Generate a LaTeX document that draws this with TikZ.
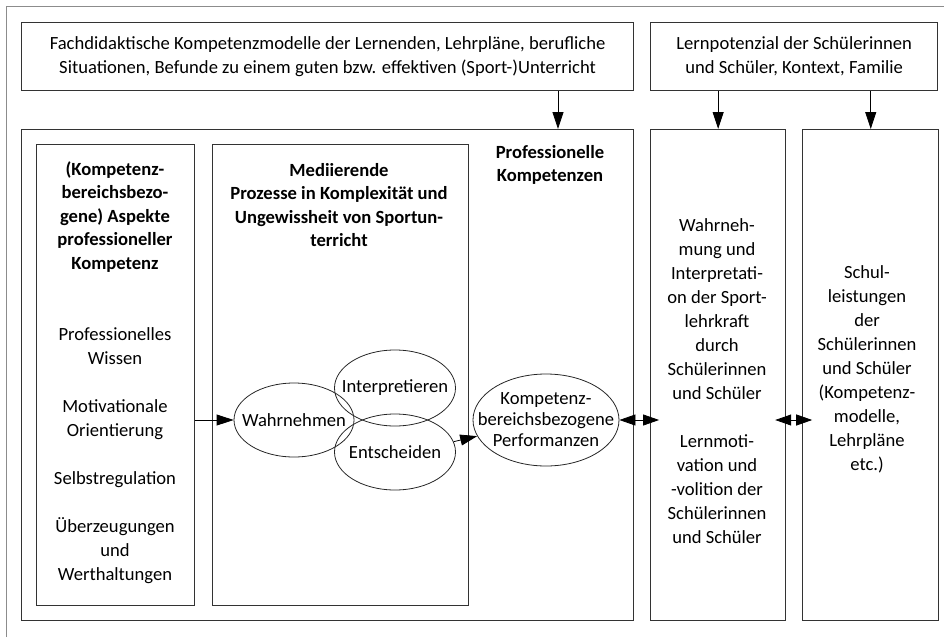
\documentclass[tikz,border=0pt]{standalone}
\usepackage{fontspec}
\setmainfont{Carlito}
\usetikzlibrary{positioning,shapes.geometric,arrows.meta}

\begin{document}
\begin{tikzpicture}[x=1pt, y=-1pt,
        box/.style={draw=black!80, line width=1.1pt, inner sep=0pt},
        txt/.style={align=center, font=\fontsize{18.6}{24}\selectfont},
        head/.style={align=center, font=\fontsize{18.6}{23.5}\selectfont\bfseries},
        oval/.style={ellipse, draw=black!85, line width=0.8pt, inner sep=0pt},
        lbl/.style={align=center, font=\fontsize{18.6}{21}\selectfont},
        arr/.style={draw, line width=0.8pt, -{Triangle[length=17pt,width=11pt]}},
        dbl/.style={draw, line width=0.8pt, {Triangle[length=16pt,width=11pt]}-{Triangle[length=16pt,width=11pt]}},
        frame/.style={draw=black!45, line width=1pt}
    ]
        \useasboundingbox (0,0) rectangle (944,637);
        \draw[frame] (6,637) -- (6,6) -- (944,6);

        % Top boxes
        \node[box, txt, minimum width=612pt, minimum height=68pt, anchor=north west] (ctx) at (21,22)
            {Fachdidaktische Kompetenzmodelle der Lernenden, Lehrpläne, berufliche\\Situationen, Befunde zu einem guten bzw. effektiven (Sport-)Unterricht};
        \node[box, txt, minimum width=287pt, minimum height=68pt, right=16pt of ctx] (pot)
            {Lernpotenzial der Schülerinnen\\und Schüler, Kontext, Familie};

        % Columns
        \node[box, minimum width=612pt, minimum height=491pt, anchor=north west] (prof) at (21,129) {};
        \node[box, minimum width=135pt, minimum height=491pt, right=16pt of prof] (wahrn) {};
        \node[box, minimum width=136pt, minimum height=491pt, right=16pt of wahrn] (schul) {};
        \node[box, minimum width=158pt, minimum height=461pt, anchor=north west] (asp) at (36,144) {};
        \node[box, minimum width=256pt, minimum height=461pt, right=17pt of asp] (med) {};

        % Texts
        \node[head] (profhead) at (550,165) {Professionelle\\Kompetenzen};
        \node[head] (asphead) at (115,217) {(Kompetenz-\\bereichsbezo-\\gene) Aspekte\\professioneller\\Kompetenz};
        \node[txt] (asplist) at (115,456) {Professionelles\\Wissen\\[24pt]Motivationale\\Orientierung\\[24pt]Selbstregulation\\[24pt]Überzeugungen\\und\\Werthaltungen};
        \node[head] (medhead) at (339,205) {Mediierende\\Prozesse in Komplexität und\\Ungewissheit von Sportun-\\terricht};
        \node[txt] (wahrntext) at (717,381.5) {Wahrneh-\\mung und\\Interpretati-\\on der Sport-\\lehrkraft\\durch\\Schülerinnen\\und Schüler\\[24pt]Lernmoti-\\vation und\\-volition der\\Schülerinnen\\und Schüler};
        \node[txt] (schultext) at (867,369) {Schul-\\leistungen\\der\\Schülerinnen\\und Schüler\\(Kompetenz-\\modelle,\\Lehrpläne\\etc.)};

        % Processes
        \node[oval, minimum width=120pt, minimum height=74pt, label={[lbl]center:Wahrnehmen}] (wahr) at (294,420) {};
        \node[oval, minimum width=121pt, minimum height=76pt, label={[lbl]center:Interpretieren}] (interp) at (395,388) {};
        \node[oval, minimum width=121pt, minimum height=76pt, label={[lbl]center:Entscheiden}] (ent) at (395,452) {};
        \node[oval, minimum width=146pt, minimum height=92pt, label={[lbl]center:{Kompetenz-\\bereichsbezogene\\Performanzen}}] (komp) at (546,420) {};

        % Arrows
        \coordinate (profin) at (558,129);
        \draw[arr] (ctx.south -| profin) -- (profin);
        \draw[arr] (pot.south -| wahrn.north) -- (wahrn.north);
        \draw[arr] (pot.south -| schul.north) -- (schul.north);
        \draw[arr] (wahr.west -| asp.east) -- (wahr.west);
        \draw[arr] (ent.10) -- (komp);
        \draw[dbl, shorten >=-9pt] (komp.east) -- (komp.east -| wahrn.west);
        \draw[dbl, shorten <=-11pt, shorten >=-10pt] (komp.east -| wahrn.east) -- (komp.east -| schul.west);
    \end{tikzpicture}
\end{document}
